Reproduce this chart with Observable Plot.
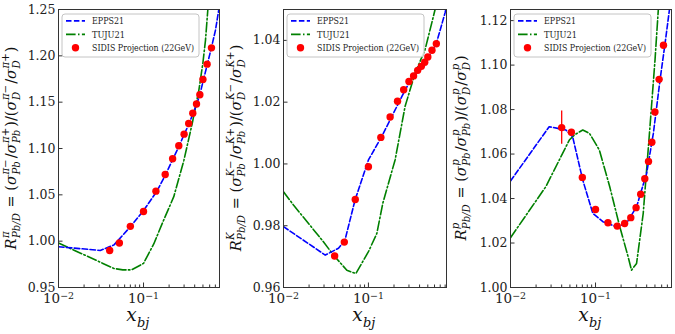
<!DOCTYPE html>
<html><head><meta charset="utf-8">
<script src="https://cdn.jsdelivr.net/npm/d3@7"></script>
<script src="https://cdn.jsdelivr.net/npm/@observablehq/plot@0.6"></script>
<style>
body{margin:0;background:#fff}
#row{display:flex;width:675px;height:334px;overflow:hidden}
#row svg{display:block;flex:none}
</style>
</head><body><div id="row"></div>
<script>
// ---------- data ----------
const xPoints = [0.040, 0.052, 0.070, 0.100, 0.140, 0.180, 0.220, 0.260, 0.300, 0.340, 0.380, 0.420, 0.460, 0.500, 0.560, 0.630];

const pionSIDIS   = [0.990, 0.998, 1.016, 1.032, 1.054, 1.072, 1.089, 1.103, 1.1155, 1.127, 1.138, 1.148, 1.158, 1.1745, 1.191, 1.2086];
const kaonSIDIS   = [0.9702, 0.9747, 0.9885, 0.9991, 1.0086, 1.0152, 1.0203, 1.0240, 1.0267, 1.0285, 1.0303, 1.0316, 1.0329, 1.0346, 1.0368, 1.0389];
const protonSIDIS = [1.0719, 1.0698, 1.0495, 1.0351, 1.0291, 1.0276, 1.0288, 1.0314, 1.0359, 1.0419, 1.0489, 1.0567, 1.0653, 1.0789, 1.0936, 1.1089];
const protonErr   = [0.0075, 0, 0, 0, 0, 0, 0, 0, 0, 0, 0, 0, 0, 0, 0, 0];

const pionEppsX = [0.01, 0.031, 0.045, 0.070, 0.100, 0.144, 0.180, 0.220, 0.260, 0.300, 0.340, 0.380, 0.420, 0.460, 0.500, 0.560, 0.630, 0.703, 0.769];
const pionEppsY = [0.994, 0.990, 0.996, 1.0155, 1.033, 1.054, 1.071, 1.088, 1.102, 1.115, 1.126, 1.137, 1.147, 1.158, 1.172, 1.190, 1.209, 1.228, 1.250];
const pionTujuX = [0.01, 0.045, 0.057, 0.072, 0.100, 0.132, 0.173, 0.227, 0.298, 0.374, 0.448, 0.499, 0.536, 0.571];
const pionTujuY = [0.998, 0.9705, 0.969, 0.969, 0.976, 0.997, 1.023, 1.048, 1.087, 1.127, 1.163, 1.192, 1.217, 1.250];

const kaonEppsX = [0.01, 0.031, 0.0444, 0.053, 0.0697, 0.100, 0.1435, 0.188, 0.247, 0.300, 0.340, 0.380, 0.420, 0.460, 0.500, 0.560, 0.630, 0.798, 0.830];
const kaonEppsY = [0.9797, 0.9705, 0.9727, 0.9754, 0.9884, 1.0013, 1.0089, 1.0153, 1.0218, 1.0262, 1.0283, 1.0300, 1.0314, 1.0327, 1.0343, 1.0365, 1.0390, 1.0489, 1.0510];
const kaonTujuX = [0.01, 0.0131, 0.0295, 0.0387, 0.0557, 0.0711, 0.100, 0.1256, 0.1477, 0.206, 0.270, 0.354, 0.464, 0.556, 0.609];
const kaonTujuY = [0.991, 0.9867, 0.9748, 0.9705, 0.9656, 0.9645, 0.9716, 0.9775, 0.9873, 1.0013, 1.0186, 1.0294, 1.0370, 1.0456, 1.0500];

const protonEppsX = [0.01, 0.0285, 0.0449, 0.0538, 0.0708, 0.093, 0.122, 0.176, 0.231, 0.304, 0.399, 0.479, 0.574, 0.658, 0.741];
const protonEppsY = [1.0479, 1.0723, 1.0708, 1.0678, 1.0483, 1.0333, 1.0296, 1.0273, 1.0288, 1.0363, 1.0513, 1.0693, 1.0933, 1.1098, 1.1250];
const protonTujuX = [0.01, 0.026, 0.0492, 0.0564, 0.0708, 0.0849, 0.111, 0.147, 0.193, 0.242, 0.265, 0.304, 0.364, 0.437, 0.501, 0.548];
const protonTujuY = [1.0224, 1.0453, 1.0663, 1.0686, 1.0708, 1.0693, 1.0618, 1.0453, 1.0273, 1.0138, 1.0078, 1.0108, 1.0333, 1.0723, 1.1023, 1.1250];

const majorTicksX = [0.01, 0.1];
const majorTickExp = ["\u22122", "\u22121"];
const minorTicksX = [0.02, 0.03, 0.04, 0.05, 0.06, 0.07, 0.08, 0.09, 0.2, 0.3, 0.4, 0.5, 0.6, 0.7, 0.8];
const pionTicksY   = [0.95, 1.00, 1.05, 1.10, 1.15, 1.20, 1.25];
const kaonTicksY   = [0.96, 0.98, 1.00, 1.02, 1.04];
const protonTicksY = [1.00, 1.02, 1.04, 1.06, 1.08, 1.10, 1.12];

const legendLabels = ["EPPS21", "TUJU21", "SIDIS Projection (22GeV)"];
const xLabel = ["x", "bj"];
const pionLabel = ["R", ["π", "Pb/D"], " = (", "σ", ["π−", "Pb"], "/", "σ", ["π+", "Pb"], ")/(", "σ", ["π−", "D"], "/", "σ", ["π+", "D"], ")"];
const kaonLabel = ["R", ["K", "Pb/D"], " = (", "σ", ["K−", "Pb"], "/", "σ", ["K+", "Pb"], ")/(", "σ", ["K−", "D"], "/", "σ", ["K+", "D"], ")"];
const protonLabel = ["R", ["p", "Pb/D"], " = (", "σ", ["p", "Pb"], "/", "σ", ["p", "Pb"], ")/(", "σ", ["p", "D"], "/", "σ", ["p", "D"], ")"];

// ---------- styling ----------
const FONT = "DejaVu Serif";
const LEGEND_FONT = "'DejaVu Serif Condensed', 'DejaVu Serif'";
const BLUE = "#0000ff", GREEN = "#008000", RED = "#ff0000";
const EPPS_DASH = "5.5,2.4", TUJU_DASH = "9.6,2.4,1.5,2.4";
const MT = 9, MB = 47, W = 225, H = 334;
const legendTextLength = [32, 33, 102];

function mathText(parent, tokens, fs, cx, cy, rot) {
  const g = parent.append("g").style("font-family", FONT).attr("fill", "#111").attr("text-anchor", "start");
  const inner = g.append("g");
  const upright = /^[\s=()\/+\-−]+$/;
  let x = 0;
  for (const tk of tokens) {
    if (typeof tk === "string") {
      const t = inner.append("text").attr("x", x).attr("y", 0).attr("font-size", fs)
        .attr("font-style", upright.test(tk) ? "normal" : "italic").style("white-space", "pre").text(tk);
      x += t.node().getComputedTextLength();
    } else {
      const [sup, sub] = tk;
      let w = 0;
      if (sup) {
        const t = inner.append("text").attr("x", x + 0.5).attr("y", -0.45 * fs).attr("font-size", 0.7 * fs)
          .attr("font-style", "italic").text(sup);
        w = Math.max(w, t.node().getComputedTextLength() + 0.5);
      }
      if (sub) {
        const t = inner.append("text").attr("x", x + 0.5).attr("y", 0.3 * fs).attr("font-size", 0.7 * fs)
          .attr("font-style", "italic").text(sub);
        w = Math.max(w, t.node().getComputedTextLength() + 0.5);
      }
      x += w + 0.08 * fs;
    }
  }
  inner.attr("transform", `translate(${-x / 2},0)`);
  g.attr("transform", `translate(${cx},${cy}) rotate(${rot})`);
  return x;
}

function panel(cfg) {
  const pts = xPoints.map((x, i) => ({x, y: cfg.sidis[i], e: cfg.err ? cfg.err[i] : 0}));
  const epps = cfg.ex.map((x, i) => ({x, y: cfg.ey[i]}));
  const tuju = cfg.tx.map((x, i) => ({x, y: cfg.ty[i]}));
  const minor = minorTicksX.filter(t => t <= cfg.xMax);
  const svgNode = Plot.plot({
    width: W, height: H,
    marginLeft: cfg.ml, marginRight: cfg.mr, marginTop: MT, marginBottom: MB,
    style: `font-family: ${FONT}; background: white; color: #222; overflow: visible;`,
    x: {type: "log", domain: [0.01, cfg.xMax]},
    y: {domain: cfg.yDomain},
    marks: [
      Plot.line(tuju, {x: "x", y: "y", stroke: GREEN, strokeWidth: 1.6, strokeDasharray: TUJU_DASH, clip: true}),
      Plot.line(epps, {x: "x", y: "y", stroke: BLUE, strokeWidth: 1.6, strokeDasharray: EPPS_DASH, clip: true}),
      Plot.ruleX(pts.filter(d => d.e > 0), {x: "x", y1: d => d.y - d.e, y2: d => d.y + d.e, stroke: RED, strokeWidth: 1.3}),
      Plot.dot(pts, {x: "x", y: "y", r: 3.7, fill: RED, stroke: "none"}),
      Plot.axisX({ticks: majorTicksX, tickSize: 4.5, dy: -4.5, tickFormat: () => "", label: null, stroke: "#333"}),
      Plot.axisX({ticks: minor, tickSize: 2.5, dy: -2.5, tickFormat: () => "", label: null, stroke: "#333"}),
      Plot.axisX({ticks: majorTicksX, tickSize: 0, tickPadding: 6, fontSize: 13.5, label: null,
                  tickFormat: d => "10" + majorTickExp[majorTicksX.indexOf(d)]}),
      Plot.axisY({ticks: cfg.yTicks, tickSize: 4.5, dx: 4.5, tickFormat: () => "", label: null, stroke: "#333"}),
      Plot.axisY({ticks: cfg.yTicks, tickSize: 0, tickPadding: 3, fontSize: 12.5, label: null, tickFormat: d3.format(".2f")}),
      Plot.frame({stroke: "#333", strokeWidth: 1})
    ]
  });
  document.getElementById("row").appendChild(svgNode);
  const svg = d3.select(svgNode);
  svg.selectAll("text").style("font-family", FONT);

  svg.selectAll("text").each(function () {
    const s = this.textContent;
    const k = majorTickExp.findIndex(e => s === "10" + e);
    if (k >= 0) {
      const t = d3.select(this);
      t.text("");
      t.append("tspan").text("10");
      t.append("tspan").attr("dy", "-0.45em").attr("font-size", "0.7em").text(majorTickExp[k]);
    }
  });

  const lg = svg.append("g").attr("transform", `translate(${cfg.ml + 4},${MT + 5})`).attr("text-anchor", "start");
  lg.append("rect").attr("x", 0).attr("y", 0).attr("width", 137).attr("height", 43).attr("rx", 3).attr("ry", 3)
    .style("fill", "white").style("fill-opacity", 0.85).style("stroke", "#c4c4c4").style("stroke-width", 1);
  const rows = [6.9, 20.4, 33.8];
  lg.append("line").attr("x1", 4).attr("x2", 23).attr("y1", rows[0]).attr("y2", rows[0])
    .attr("stroke", BLUE).attr("stroke-width", 1.6).attr("stroke-dasharray", EPPS_DASH);
  lg.append("line").attr("x1", 4).attr("x2", 23).attr("y1", rows[1]).attr("y2", rows[1])
    .attr("stroke", GREEN).attr("stroke-width", 1.6).attr("stroke-dasharray", TUJU_DASH);
  lg.append("circle").attr("cx", 13.5).attr("cy", rows[2]).attr("r", 3.7).attr("fill", RED);
  legendLabels.forEach((s, i) => {
    lg.append("text").attr("x", 30).attr("y", rows[i]).attr("dy", "0.35em")
      .attr("font-size", 9.5).attr("fill", "#222").style("font-family", LEGEND_FONT)
      .attr("textLength", legendTextLength[i]).attr("lengthAdjust", "spacingAndGlyphs").text(s);
  });

  const plotCx = cfg.ml + (W - cfg.ml - cfg.mr) / 2;
  mathText(svg, [xLabel[0], [null, xLabel[1]]], 18.5, plotCx, 321, 0);
  mathText(svg, cfg.yLabel, 14.5, 16, MT + (H - MT - MB) / 2, -90);
}

panel({ml: 58, mr: 6, xMax: 0.783, yDomain: [0.95, 1.25], yTicks: pionTicksY,
       sidis: pionSIDIS, ex: pionEppsX, ey: pionEppsY, tx: pionTujuX, ty: pionTujuY, yLabel: pionLabel});
panel({ml: 58, mr: 4, xMax: 0.83, yDomain: [0.96, 1.05], yTicks: kaonTicksY,
       sidis: kaonSIDIS, ex: kaonEppsX, ey: kaonEppsY, tx: kaonTujuX, ty: kaonTujuY, yLabel: kaonLabel});
panel({ml: 60, mr: 4, xMax: 0.783, yDomain: [1.00, 1.125], yTicks: protonTicksY,
       sidis: protonSIDIS, err: protonErr, ex: protonEppsX, ey: protonEppsY, tx: protonTujuX, ty: protonTujuY, yLabel: protonLabel});
</script>
</body></html>
